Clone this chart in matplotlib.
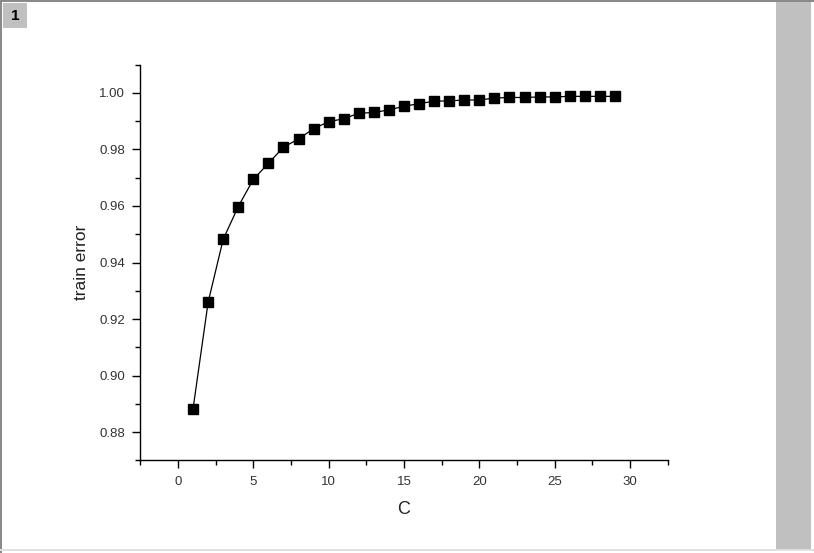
import numpy as np
import matplotlib.pyplot as plt
from matplotlib.patches import Rectangle
from matplotlib.ticker import MultipleLocator

# data
c_vals = list(range(1, 30))
train_err = [0.8882, 0.9259, 0.9482, 0.9598, 0.9694, 0.9751, 0.9808, 0.9837,
             0.9874, 0.9898, 0.9909, 0.9928, 0.9931, 0.9940, 0.9953, 0.9962,
             0.9971, 0.9972, 0.9975, 0.9975, 0.9982, 0.9984, 0.9984, 0.9986,
             0.9986, 0.9988, 0.9988, 0.9988, 0.9988]
x_ticks = [0, 5, 10, 15, 20, 25, 30]
y_ticks = [0.88, 0.90, 0.92, 0.94, 0.96, 0.98, 1.00]

plt.rcParams['font.family'] = ['Liberation Sans', 'DejaVu Sans']

W, H = 814, 553
fig = plt.figure(figsize=(W / 100, H / 100), dpi=100)
fig.patch.set_facecolor('white')

# window frame like the Origin graph page
def px_rect(x0, y0, x1, y1, color):
    fig.patches.append(Rectangle((x0 / W, 1 - y1 / H), (x1 - x0) / W, (y1 - y0) / H,
                                 transform=fig.transFigure, facecolor=color,
                                 edgecolor='none', zorder=0))

px_rect(776, 2, 811, 551, '#c0c0c0')
px_rect(0, 0, W, 2, '#8a8a8a')
px_rect(0, 0, 2, H, '#8a8a8a')
px_rect(0, 549, W, 551, '#e0e0e0')
px_rect(3, 3, 27, 28, '#c0c0c0')
fig.text(15 / W, 1 - 16 / H, '1', ha='center', va='center', fontsize=11,
         fontweight='bold', color='black')

ax = fig.add_axes([140.3 / W, 1 - 460.3 / H, (667.7 - 140.3) / W, (460.3 - 64.7) / H])
ax.patch.set_alpha(0)

ax.plot(c_vals, train_err, color='black', linewidth=0.9, marker='s',
        markersize=7.5, markerfacecolor='black', markeredgecolor='black')

ax.set_xlim(-2.5, 32.5)
ax.set_ylim(0.87, 1.01)
ax.set_xticks(x_ticks)
ax.set_yticks(y_ticks)
ax.set_yticklabels([f'{v:.2f}' for v in y_ticks])
ax.xaxis.set_minor_locator(MultipleLocator(2.5))
ax.yaxis.set_minor_locator(MultipleLocator(0.01))

for s in ['top', 'right']:
    ax.spines[s].set_visible(False)
for s in ['left', 'bottom']:
    ax.spines[s].set_linewidth(1.0)
    ax.spines[s].set_color('black')

ax.tick_params(which='major', direction='out', length=6, width=1.0,
               labelsize=9.5, labelcolor='#333333', pad=5)
ax.tick_params(which='minor', direction='out', length=3.5, width=1.0)

ax.set_xlabel('C', fontsize=13, color='#222222', labelpad=10)
ax.set_ylabel('train error', fontsize=12.5, color='#222222', labelpad=7)

fig.savefig('out.png', dpi=100)
